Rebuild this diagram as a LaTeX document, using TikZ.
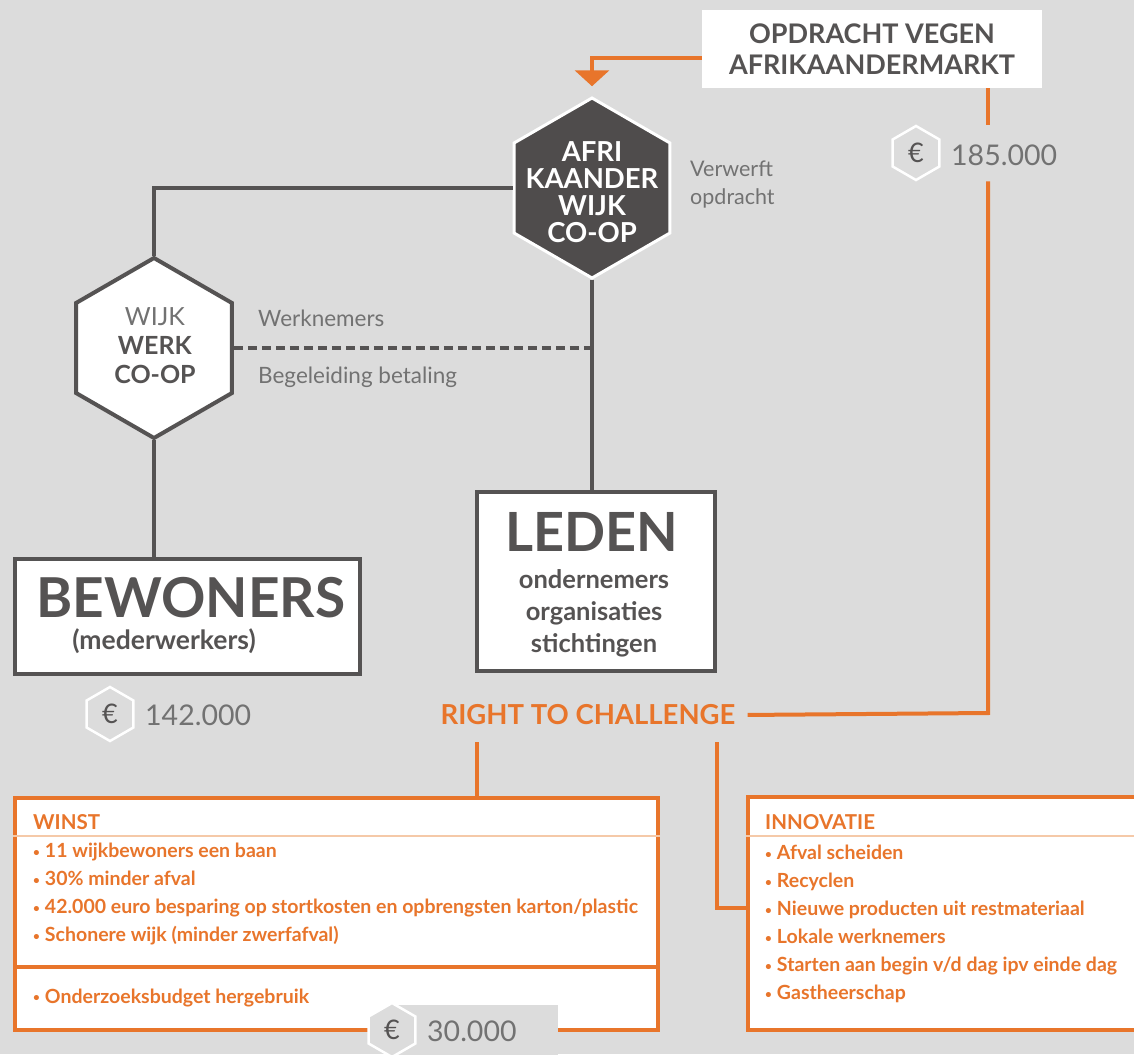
\documentclass[tikz,border=0pt]{standalone}
\usepackage{fontspec}
\setmainfont{Lato}
\usetikzlibrary{shapes.geometric,arrows.meta,calc}
\definecolor{bg}{HTML}{DCDCDC}
\definecolor{dk}{HTML}{4F4C4C}
\definecolor{tx}{HTML}{555353}
\definecolor{lt}{HTML}{727272}
\definecolor{orn}{HTML}{E8752B}
\definecolor{orl}{HTML}{F5C9A8}
\newcommand\bul{\raisebox{1.5pt}{\scalebox{0.6}{•}}\hspace{5pt}}
\begin{document}
\begin{tikzpicture}[x=1pt,y=-1pt,
  oline/.style={draw=orn,line width=4pt},
  gline/.style={draw=tx,line width=4pt},
  dline/.style={draw=tx,line width=4pt,dash pattern=on 9pt off 5pt},
  hexbig/.style={regular polygon,regular polygon sides=6,shape border rotate=30,minimum size=180pt,inner sep=0pt},
  badge/.style={regular polygon,regular polygon sides=6,shape border rotate=30,minimum size=54pt,inner sep=0pt,draw=white,line width=2.5pt,fill=bg,text=tx,font=\fontsize{27}{27}\selectfont},
  lbl/.style={inner sep=0pt},
  obox/.style={draw=orn,line width=4pt,fill=white,inner sep=0pt},
  gbox/.style={draw=tx,line width=4pt,fill=white,inner sep=0pt},
  otext/.style={lbl,anchor=west,align=left,text=orn,font=\fontsize{19.5}{28}\selectfont\bfseries},
  numtext/.style={lbl,anchor=west,text=lt,font=\fontsize{28.5}{28}\selectfont}
]
\clip (0,0) rectangle (1134,1054);
\fill[bg] (0,0) rectangle (1134,1054);

% top box
\node[fill=white,minimum width=340pt,minimum height=78pt,align=center,text=tx,
      font=\fontsize{27}{31}\selectfont\bfseries] (opd) at (872,49) {OPDRACHT VEGEN\\AFRIKAANDERMARKT};

% central hexagon
\node[hexbig,fill=dk,draw=white,line width=3pt] (afri) at (592,188) {};
\node[lbl,align=center,text=white,font=\fontsize{27.5}{27}\selectfont\bfseries] (afritxt) at (592,192) {AFRI\\KAANDER\\WIJK\\CO-OP};
\node[lbl,anchor=west,align=left,text=lt,font=\fontsize{21.5}{28}\selectfont] (verw) at (690,185) {Verwerft\\opdracht};

% wijk werk hexagon
\node[hexbig,fill=white,draw=tx,line width=4pt] (wijk) at (154,348) {};
\node[lbl,align=center,text=tx,font=\fontsize{25}{29}\selectfont] (wijktxt) at (155,346) {{\color{lt}WIJK}\\\textbf{WERK}\\\textbf{CO-OP}};
\node[lbl,anchor=west,text=lt,font=\fontsize{22.5}{22}\selectfont] (werkn) at (258,318) {Werknemers};
\node[lbl,anchor=west,text=lt,font=\fontsize{22.5}{22}\selectfont] (begel) at (258,377) {Begeleiding betaling};

% boxes
\node[gbox,minimum width=345pt,minimum height=115pt] (bew) at (187.5,616.5) {};
\node[lbl,text=tx,font=\fontsize{55}{60}\selectfont\bfseries] (bewt) at (191,598) {BEWONERS};
\node[lbl,text=tx,font=\fontsize{26.5}{28}\selectfont\bfseries] (bews) at (164,641) {(mederwerkers)};

\node[gbox,minimum width=238pt,minimum height=179pt] (leden) at (596,581.5) {};
\node[lbl,text=tx,font=\fontsize{54}{60}\selectfont\bfseries] (ledent) at (592,532) {LEDEN};
\node[lbl,align=center,text=tx,font=\fontsize{25.5}{32}\selectfont\bfseries] (ledens) at (594,613) {ondernemers\\organisaties\\stichtingen};

% connectors gray
\draw[gline] (afri.west) -| (wijk.north);
\draw[gline] (wijk.south) -- (wijk.south |- bew.north);
\draw[gline] (afri.south) -- (afri.south |- leden.north);
\draw[dline] (wijk.east) -- (wijk.east -| afri.south);

% badges
\node[badge] (e185) at (916,153) {€};
\node[numtext] (n185) at (951,155) {185.000};
\node[badge] (e142) at (110,714) {€};
\node[numtext] (n142) at (145,715) {142.000};

% right to challenge
\node[text=orn,font=\fontsize{27.5}{30}\selectfont\bfseries,minimum height=54pt,inner xsep=7pt,inner ysep=0pt] (rtc) at (588,715) {RIGHT TO CHALLENGE};

% orange connectors
\coordinate (rt) at (988,713);
\coordinate (wx) at (477,0);
\coordinate (ix) at (717,0);
\draw[oline,-{Triangle[width=34pt,length=16pt]}] ([yshift=-9pt]opd.west) -| ([yshift=10pt]afri.north);
\draw[oline] (opd.south -| rt) -- (e185.north -| rt);
\draw[oline,shorten >=5pt] (e185.south -| rt) -- (rt) -- (rtc.east);

% result boxes
\node[obox,minimum width=643pt,minimum height=232pt] (winst) at (336.5,914) {};
\node[obox,minimum width=397pt,minimum height=233pt] (innov) at (946.5,913.5) {};
\draw[oline] (rtc.south -| wx) -- (winst.north -| wx);
\draw[oline] (rtc.south -| ix) |- ([yshift=6pt]innov.west);

\draw[orl,line width=1.5pt] (winst.west |- 0,836) -- (winst.east |- 0,836);
\draw[oline] (winst.west |- 0,967) -- (winst.east |- 0,967);
\draw[orl,line width=1.5pt] (innov.west |- 0,836) -- (innov.east |- 0,836);

\node[otext,font=\fontsize{20.5}{20}\selectfont\bfseries] (winsth) at (33,822) {WINST};
\node[otext] (winstl) at (33,894) {\bul 11 wijkbewoners een baan\\\bul 30\% minder afval\\\bul 42.000 euro besparing op stortkosten en opbrengsten karton/plastic\\\bul Schonere wijk (minder zwerfafval)};
\node[otext] (onderz) at (33,998) {\bul Onderzoeksbudget hergebruik};

\node[otext,font=\fontsize{20.5}{20}\selectfont\bfseries] (innovh) at (765,822) {INNOVATIE};
\node[otext] (innovl) at (765,924) {\bul Afval scheiden\\\bul Recyclen\\\bul Nieuwe producten uit restmateriaal\\\bul Lokale werknemers\\\bul Starten aan begin v/d dag ipv einde dag\\\bul Gastheerschap};

% 30.000 badge
\fill[bg] (392,1005) rectangle (558,1060);
\node[badge] (e30) at (392,1030) {€};
\node[numtext] (n30) at (427,1031) {30.000};
\end{tikzpicture}
\end{document}
